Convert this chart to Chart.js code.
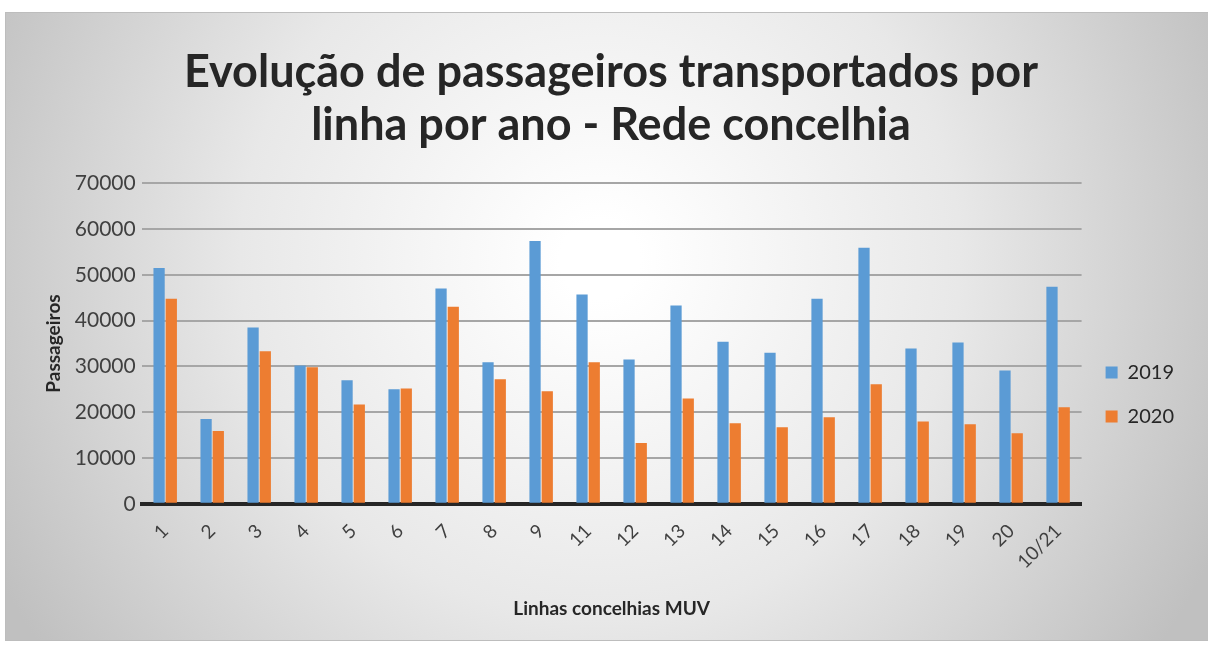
<!DOCTYPE html>
<html>
<head>
<meta charset="utf-8">
<script src="https://cdn.jsdelivr.net/npm/chart.js@4"></script>
<style>
  html, body { margin: 0; padding: 0; background: #fff; }
  #wrap { width: 1208px; height: 646px; }
</style>
</head>
<body>
<div id="wrap"><canvas id="chart" width="1208" height="646"></canvas></div>
<script>
const linhas = ['1', '2', '3', '4', '5', '6', '7', '8', '9', '11', '12', '13', '14', '15', '16', '17', '18', '19', '20', '10/21'];
const pass2019 = [51500, 18500, 38500, 30200, 27000, 25000, 47000, 30900, 57400, 45700, 31500, 43300, 35400, 33000, 44800, 55900, 33900, 35200, 29100, 47400];
const pass2020 = [44800, 15900, 33300, 29800, 21700, 25200, 43000, 27200, 24600, 30900, 13300, 23000, 17600, 16700, 18900, 26100, 18000, 17400, 15400, 21100];

const fontFamily = 'Lato, "Open Sans", sans-serif';

// grey frame with light centre, like the exported picture
const backdrop = {
  id: 'backdrop',
  beforeDraw(chart) {
    const c = chart.ctx;
    c.save();
    c.fillStyle = '#ffffff';
    c.fillRect(0, 0, chart.width, chart.height);
    const g = c.createRadialGradient(600, 260, 40, 600, 260, 680);
    g.addColorStop(0, '#ffffff');
    g.addColorStop(0.5, '#e8e8e8');
    g.addColorStop(1, '#c0c0c0');
    c.fillStyle = g;
    c.fillRect(5, 12, chart.width - 5, chart.height - 18);
    c.strokeStyle = '#bdbdbd';
    c.lineWidth = 1;
    c.strokeRect(5.5, 12.5, chart.width - 5, chart.height - 18);
    c.restore();
  }
};

new Chart(document.getElementById('chart').getContext('2d'), {
  type: 'bar',
  data: {
    labels: linhas,
    datasets: [
      { label: '2019', data: pass2019, backgroundColor: '#5b9bd5' },
      { label: '2020', data: pass2020, backgroundColor: '#ed7d31' }
    ]
  },
  options: {
    responsive: false,
    animation: false,
    layout: { padding: { left: 38, right: 24, top: 20, bottom: 22 } },
    datasets: {
      bar: { barPercentage: 0.92, categoryPercentage: 0.52 }
    },
    plugins: {
      title: {
        display: true,
        text: ['Evolução de passageiros transportados por', 'linha por ano - Rede concelhia'],
        color: '#262626',
        font: { family: fontFamily, size: 45, weight: 'bold', lineHeight: 1.18 },
        padding: { top: 26, bottom: 31 }
      },
      legend: {
        position: 'right',
        title: { display: true, text: ' ', font: { size: 4 }, padding: { top: 0, bottom: 140 } },
        labels: {
          color: '#262626',
          boxWidth: 12,
          boxHeight: 12,
          padding: 24,
          font: { family: fontFamily, size: 20 }
        }
      },
      tooltip: { enabled: false }
    },
    scales: {
      x: {
        grid: { display: false },
        border: { color: '#262626', width: 4 },
        ticks: {
          color: '#404040',
          minRotation: 45,
          maxRotation: 45,
          padding: 8,
          font: { family: fontFamily, size: 19 }
        },
        title: {
          display: true,
          text: 'Linhas concelhias MUV',
          color: '#262626',
          font: { family: fontFamily, size: 19, weight: 'bold' },
          padding: { top: 16 }
        }
      },
      y: {
        min: 0,
        max: 70000,
        ticks: {
          stepSize: 10000,
          color: '#404040',
          padding: 6,
          font: { family: fontFamily, size: 21 },
          callback: v => String(v)
        },
        grid: { color: '#a6a6a6', lineWidth: 2, drawTicks: false },
        border: { display: false },
        title: {
          display: true,
          text: 'Passageiros',
          color: '#262626',
          font: { family: fontFamily, size: 19, weight: 'bold' },
          padding: { bottom: 4 }
        }
      }
    }
  },
  plugins: [backdrop]
});
</script>
</body>
</html>
